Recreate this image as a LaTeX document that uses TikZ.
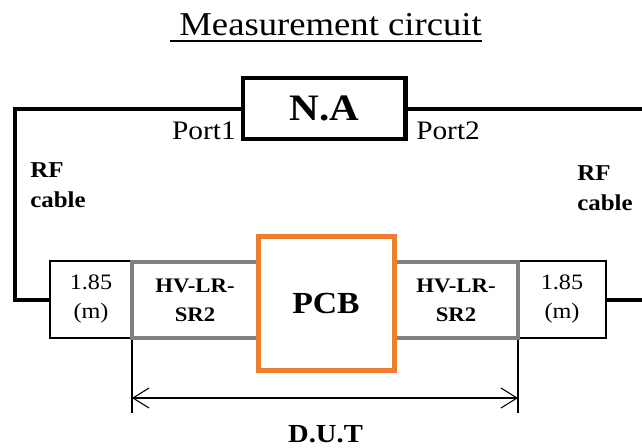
\documentclass[tikz,border=0pt]{standalone}
\usepackage{fontspec}
\setmainfont[FakeStretch=1.1]{Liberation Serif}
\usetikzlibrary{arrows.meta, positioning, calc}
\definecolor{pcborange}{RGB}{237,125,49}
\definecolor{adgray}{RGB}{128,128,128}

\begin{document}
\begin{tikzpicture}[x=0.75pt, y=-0.75pt, >={Straight Barb[length=12pt, width=15pt]},
  wire/.style={line width=3pt},
  blk/.style={draw, inner sep=0pt, align=center},
  lenbox/.style={blk, line width=1.5pt, minimum height=57.75pt,
    font=\fontsize{16.5}{21.75}\selectfont},
  adbox/.style={blk, draw=adgray, line width=3.4pt, minimum height=57pt,
    font=\bfseries\fontsize{15.5}{21.75}\selectfont},
  portlabel/.style={inner sep=0pt, font=\fontsize{20}{24}\selectfont},
  rflabel/.style={inner sep=0pt, align=left, anchor=north west,
    font=\bfseries\fontsize{17}{22.5}\selectfont},
  dimline/.style={line width=0.8pt}]
  \useasboundingbox (0,0) rectangle (642,447);
  \clip (0,0) rectangle (642,447);

  % title
  \node[inner sep=0pt, anchor=base, font=\fontsize{25}{30}\selectfont] (title) at (326,35) {\ Measurement circuit};
  \draw[line width=1.5pt] ([yshift=-4.5pt]title.base west) -- ([yshift=-4.5pt]title.base east);

  % network analyser
  \node[blk, line width=3.4pt, minimum width=121.9pt, minimum height=45.75pt,
    font=\bfseries\fontsize{28}{32}\selectfont] (na) at (324.25,108.5) {N.A};
  \node[portlabel, anchor=base east] (port1) at (236,139) {Port1};
  \node[portlabel, anchor=base west] (port2) at (416,139) {Port2};

  % cables
  \node[rflabel] (rfL) at (30,162) {RF\\cable};
  \node[rflabel] (rfR) at (577,165) {RF\\cable};

  % D.U.T span
  \draw[dimline] (132,338) coordinate (dutL) -- ++(0,75);
  \draw[dimline] (518,338) coordinate (dutR) -- ++(0,75);
  \draw[dimline, <->] ($(dutL)+(0,60)$) -- ($(dutR)+(0,60)$);
  \node[inner sep=0pt, anchor=base, font=\bfseries\fontsize{19.5}{24}\selectfont] (dut) at (325.5,442) {D.U.T};

  % chain
  \node[lenbox, minimum width=61.5pt] (lenL) at (91,299.5) {1.85\\(m)};
  \node[lenbox, minimum width=66pt] (lenR) at (562,299.5) {1.85\\(m)};
  \node[adbox, minimum width=94.5pt] (hvL) at (195,300) {HV-LR-\\SR2};
  \node[adbox, minimum width=93pt] (hvR) at (456,300) {HV-LR-\\SR2};
  \node[blk, draw=pcborange, line width=3.75pt, minimum width=102pt, minimum height=100.5pt,
    font=\bfseries\fontsize{23}{28}\selectfont] (pcb) at (326,303) {PCB};

  \draw[wire] (na.west) -- (15,108.5) |- (lenL.west);
  \draw[wire] (na.east) -- (646,108.5) |- (lenR.east);
\end{tikzpicture}
\end{document}
